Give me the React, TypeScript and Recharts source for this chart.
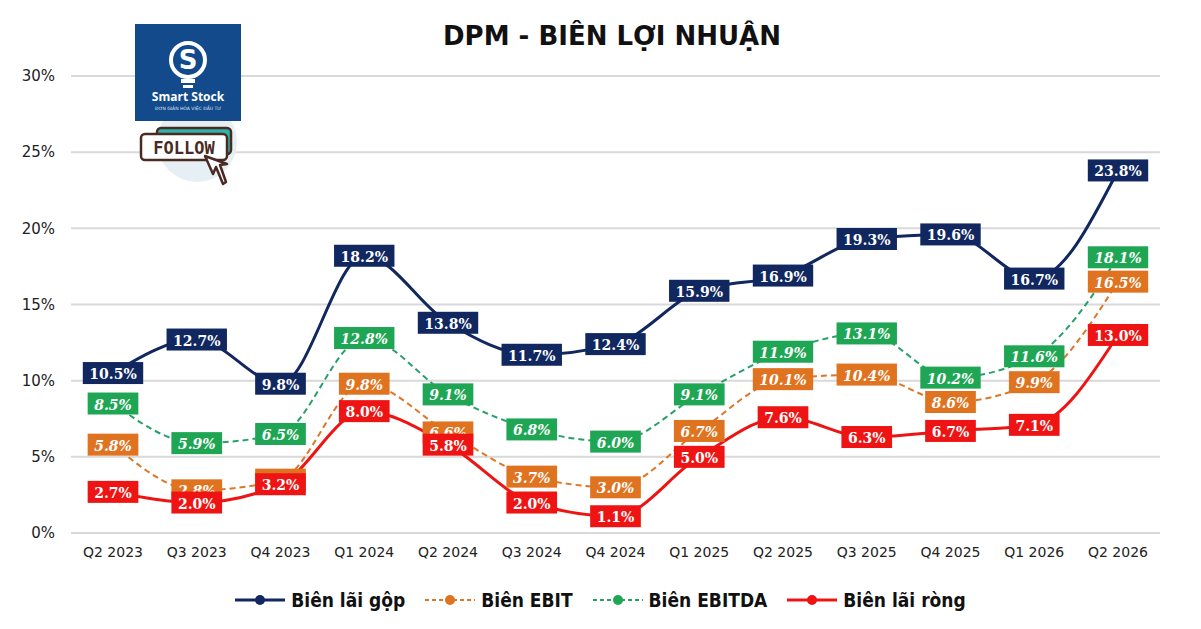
import { LineChart, Line, XAxis, YAxis, CartesianGrid, LabelList } from 'recharts'

// Dữ liệu biên lợi nhuận theo quý (%)
const categories = [
  'Q2 2023', 'Q3 2023', 'Q4 2023', 'Q1 2024', 'Q2 2024', 'Q3 2024', 'Q4 2024',
  'Q1 2025', 'Q2 2025', 'Q3 2025', 'Q4 2025', 'Q1 2026', 'Q2 2026'
]
const grossMargin = [10.5, 12.7, 9.8, 18.2, 13.8, 11.7, 12.4, 15.9, 16.9, 19.3, 19.6, 16.7, 23.8]
const ebitMargin = [5.8, 2.8, 3.5, 9.8, 6.6, 3.7, 3.0, 6.7, 10.1, 10.4, 8.6, 9.9, 16.5]
const ebitdaMargin = [8.5, 5.9, 6.5, 12.8, 9.1, 6.8, 6.0, 9.1, 11.9, 13.1, 10.2, 11.6, 18.1]
const netMargin = [2.7, 2.0, 3.2, 8.0, 5.8, 2.0, 1.1, 5.0, 7.6, 6.3, 6.7, 7.1, 13.0]
const yTicks = [0, 5, 10, 15, 20, 25, 30]

const data = categories.map((quy, i) => ({
  quy,
  gop: grossMargin[i],
  ebit: ebitMargin[i],
  ebitda: ebitdaMargin[i],
  rong: netMargin[i]
}))

const series = [
  { key: 'gop', name: 'Biên lãi gộp', line: '#10275f', box: '#10275f', dash: undefined, italic: false, width: 3 },
  { key: 'ebit', name: 'Biên EBIT', line: '#df7626', box: '#e0731f', dash: '6 4', italic: true, width: 2 },
  { key: 'ebitda', name: 'Biên EBITDA', line: '#26a06a', box: '#1fa654', dash: '6 4', italic: true, width: 2 },
  { key: 'rong', name: 'Biên lãi ròng', line: '#ee1414', box: '#ee1414', dash: undefined, italic: false, width: 3 }
]

const makeLabel = (fill: string, italic: boolean) => (props: any) => {
  const { x, y, value } = props
  if (x == null || y == null || value == null) return null
  const text = `${Number(value).toFixed(1)}%`
  const digits = text.length - 2
  const w = digits * 9.7 + 5.3 + 14 + 12
  const h = 22
  return (
    <g>
      <rect x={x - w / 2} y={y - h / 2} width={w} height={h} fill={fill} />
      <text
        x={x}
        y={y + 1}
        textAnchor="middle"
        dominantBaseline="central"
        fill="#fff"
        fontFamily="'DejaVu Serif', serif"
        fontWeight="bold"
        fontStyle={italic ? 'italic' : 'normal'}
        fontSize={14}
      >
        {text}
      </text>
    </g>
  )
}

function Logo() {
  return (
    <>
      <div style={{ position: 'absolute', left: 157, top: 102, width: 80, height: 80, borderRadius: '50%', background: '#e6eff3' }} />
      <div style={{ position: 'absolute', left: 135, top: 24, width: 106, height: 97, background: '#124a8c' }}>
        <svg width={106} height={97} style={{ position: 'absolute', left: 0, top: 0 }}>
          <circle cx={53} cy={36} r={17} fill="none" stroke="#fff" strokeWidth={4} />
          <rect x={46} y={55} width={14} height={4} fill="#fff" />
          <rect x={48} y={61} width={10} height={3} fill="#fff" />
          <text x={53} y={45} textAnchor="middle" fill="#fff" fontFamily="'DejaVu Sans', sans-serif" fontWeight="bold" fontSize={26}>S</text>
          <text x={53} y={77} textAnchor="middle" fill="#fff" fontFamily="'Open Sans', sans-serif" fontWeight="bold" fontSize={12}>Smart Stock</text>
          <text x={53} y={86} textAnchor="middle" fill="#dfe8f3" fontFamily="'DejaVu Sans', sans-serif" fontSize={4.5}>ĐƠN GIẢN HÓA VIỆC ĐẦU TƯ</text>
        </svg>
      </div>
      <svg width={110} height={70} style={{ position: 'absolute', left: 135, top: 122 }}>
        <rect x={22} y={6} width={74} height={26} rx={4} fill="#2fb3a8" stroke="#4a2a22" strokeWidth={2.5} />
        <rect x={6} y={12} width={86} height={26} rx={4} fill="#fff" stroke="#4a2a22" strokeWidth={2.5} />
        <text x={49} y={32} textAnchor="middle" fill="#4a2a22" fontFamily="'DejaVu Sans Mono', monospace" fontWeight="bold" fontSize={17}>FOLLOW</text>
        <path d="M70 34 L78 52 L81 45 L88 62 L91 60 L85 43 L92 42 Z" fill="#fff" stroke="#4a2a22" strokeWidth={2.5} strokeLinejoin="round" />
      </svg>
    </>
  )
}

function LegendBar() {
  return (
    <div
      style={{
        position: 'absolute',
        left: 0,
        top: 589,
        width: 1201,
        display: 'flex',
        justifyContent: 'center',
        gap: 20,
        fontFamily: "'DejaVu Sans Condensed', 'DejaVu Sans', sans-serif",
        fontStretch: 'condensed',
        fontWeight: 'bold',
        fontSize: 19,
        color: '#111'
      }}
    >
      {series.map((s) => (
        <div key={s.key} style={{ display: 'flex', alignItems: 'center', gap: 6 }}>
          <svg width={50} height={14}>
            <line x1={0} y1={7} x2={50} y2={7} stroke={s.line} strokeWidth={s.width} strokeDasharray={s.dash ? '4 3' : undefined} />
            <circle cx={25} cy={7} r={5} fill={s.box} />
          </svg>
          <span>{s.name}</span>
        </div>
      ))}
    </div>
  )
}

export default function App() {
  return (
    <div style={{ position: 'relative', width: 1201, height: 629, background: '#fff', overflow: 'hidden' }}>
      <style>{'body{margin:0}'}</style>
      <div
        style={{
          position: 'absolute',
          left: 0,
          top: 21,
          width: 1224,
          textAlign: 'center',
          fontFamily: "'DejaVu Sans', sans-serif",
          fontWeight: 'bold',
          fontSize: 26,
          color: '#111'
        }}
      >
        DPM - BIÊN LỢI NHUẬN
      </div>
      <LineChart width={1201} height={629} data={data} margin={{ top: 76, right: 41, left: 11, bottom: 66 }}>
        <CartesianGrid vertical={false} stroke="#d9d9d9" strokeWidth={2} />
        <XAxis
          dataKey="quy"
          axisLine={false}
          tickLine={false}
          tickMargin={8}
          padding={{ left: 42, right: 42 }}
          tick={{ fill: '#222', fontSize: 14, fontFamily: "'DejaVu Sans', sans-serif" }}
        />
        <YAxis
          width={60}
          domain={[0, 30]}
          ticks={yTicks}
          axisLine={false}
          tickLine={false}
          tickMargin={10}
          tickFormatter={(v) => `${v}%`}
          tick={{ fill: '#222', fontSize: 15, fontFamily: "'DejaVu Sans', sans-serif" }}
        />
        {series.map((s) => (
          <Line
            key={s.key}
            type="monotone"
            dataKey={s.key}
            stroke={s.line}
            strokeWidth={s.width}
            strokeDasharray={s.dash}
            dot={false}
            activeDot={false}
            isAnimationActive={false}
          />
        ))}
        {series.map((s) => (
          <Line
            key={`${s.key}-label`}
            type="monotone"
            dataKey={s.key}
            stroke="none"
            dot={false}
            activeDot={false}
            legendType="none"
            isAnimationActive={false}
          >
            <LabelList dataKey={s.key} content={makeLabel(s.box, s.italic)} />
          </Line>
        ))}
      </LineChart>
      <Logo />
      <LegendBar />
    </div>
  )
}
